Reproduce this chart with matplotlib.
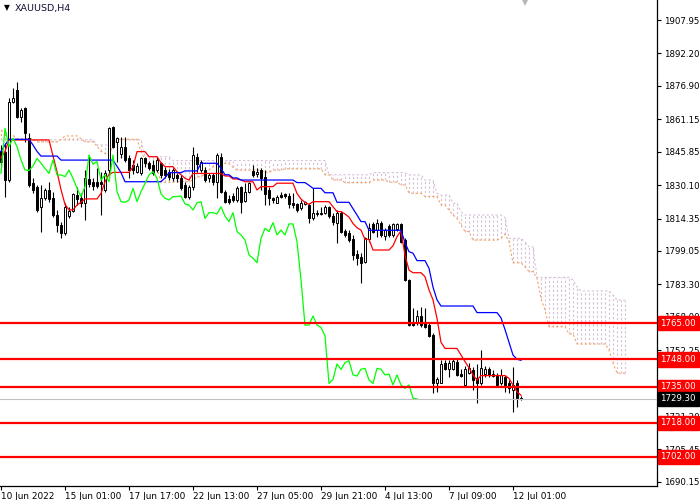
import matplotlib
matplotlib.use("Agg")
import matplotlib.pyplot as plt
import numpy as np

# ---------------- data (XAUUSD H4) ----------------
opens = [1846.0,1845.9,1832.5,1869.4,1874.9,1862.4,1866.3,1852.1,1831.0,1829.4,
         1819.9,1823.8,1827.8,1823.8,1816.0,1811.3,1807.4,1815.5,1817.9,1825.4,
         1824.2,1821.5,1833.0,1831.7,1831.7,1831.5,1827.8,1837.2,1857.6,1850.6,
         1845.0,1848.2,1842.7,1839.5,1836.4,1835.6,1843.0,1840.4,1839.6,1837.2,
         1840.4,1837.2,1836.4,1833.3,1834.9,1833.3,1830.2,1824.3,1829.4,1843.5,
         1837.2,1837.2,1833.3,1834.9,1831.7,1843.5,1827.0,1823.5,1825.0,1823.1,
         1829.0,1822.8,1827.0,1836.9,1835.5,1837.2,1834.0,1827.8,1824.2,1821.8,
         1825.4,1825.8,1825.0,1821.5,1821.2,1819.2,1821.2,1820.7,1814.4,1816.5,
         1817.1,1817.1,1819.9,1815.5,1812.4,1817.1,1808.6,1807.4,1804.5,1797.6,
         1796.0,1794.0,1804.5,1811.8,1808.9,1812.4,1806.1,1810.8,1806.6,1809.2,
         1811.8,1804.2,1785.4,1765.3,1764.9,1768.4,1764.9,1764.1,1759.4,1736.6,
         1736.9,1746.4,1743.2,1743.2,1746.9,1741.0,1735.9,1741.7,1742.9,1739.0,
         1736.6,1741.0,1743.3,1740.1,1740.6,1736.6,1739.8,1736.6,1733.5,1736.6,
         1729.6]
highs = [1849.0,1849.8,1871.0,1875.7,1878.9,1866.3,1867.0,1854.5,1833.3,1830.2,
         1830.2,1828.6,1831.7,1827.0,1818.4,1812.9,1821.5,1819.9,1826.2,1829.4,
         1826.2,1837.2,1844.0,1833.5,1838.0,1836.4,1837.2,1857.6,1857.9,1852.9,
         1852.9,1852.9,1844.3,1841.9,1840.4,1843.5,1843.5,1841.5,1841.9,1843.5,
         1841.2,1838.8,1837.5,1838.0,1836.0,1834.9,1831.7,1830.2,1847.9,1845.4,
         1842.0,1838.8,1835.6,1835.6,1845.1,1845.1,1827.8,1825.4,1826.2,1829.7,
         1829.7,1830.9,1831.7,1839.6,1838.0,1838.0,1837.2,1829.4,1824.7,1825.4,
         1827.0,1826.5,1826.5,1826.2,1821.5,1823.1,1822.8,1821.5,1828.6,1818.4,
         1819.6,1820.7,1820.2,1816.8,1818.4,1818.0,1809.3,1808.9,1806.6,1799.5,
         1797.9,1805.8,1812.1,1812.9,1814.0,1813.3,1809.7,1811.8,1812.4,1812.4,
         1812.1,1805.0,1785.7,1772.0,1771.2,1772.8,1772.0,1764.9,1760.2,1739.8,
         1747.6,1747.6,1747.6,1747.9,1747.9,1743.3,1744.8,1746.1,1744.5,1745.8,
         1752.4,1744.8,1744.5,1742.9,1741.7,1743.3,1740.6,1738.2,1744.5,1738.2,
         1730.5]
lows = [1839.0,1824.7,1831.7,1868.6,1861.6,1860.0,1850.6,1829.4,1826.2,1817.6,
        1808.1,1823.0,1822.3,1815.2,1808.1,1805.0,1806.6,1814.4,1817.6,1820.7,
        1819.9,1813.6,1829.0,1828.0,1828.6,1816.0,1827.0,1834.9,1847.4,1841.1,
        1842.7,1841.1,1833.3,1835.5,1835.6,1834.9,1838.8,1837.0,1834.9,1836.4,
        1833.3,1833.5,1832.5,1832.0,1831.5,1827.8,1823.9,1823.4,1827.8,1836.4,
        1836.4,1831.7,1831.7,1830.2,1823.9,1826.2,1821.8,1821.3,1822.3,1822.3,
        1816.8,1822.3,1826.2,1834.1,1834.0,1827.8,1820.7,1820.7,1821.8,1821.5,
        1823.9,1823.9,1819.2,1819.2,1817.6,1818.4,1820.7,1812.1,1813.6,1815.5,
        1816.0,1816.5,1814.4,1811.3,1802.7,1807.4,1805.5,1803.4,1794.8,1792.4,
        1784.1,1793.2,1803.4,1807.4,1805.5,1805.5,1804.2,1805.5,1805.8,1808.6,
        1802.7,1785.1,1763.7,1763.7,1764.1,1763.4,1762.6,1758.6,1732.3,1732.7,
        1736.6,1742.9,1739.8,1742.9,1740.1,1739.8,1735.4,1741.0,1733.5,1727.2,
        1735.9,1739.8,1739.8,1739.8,1735.4,1735.9,1732.7,1731.9,1723.3,1725.3,
        1728.8]
closes = [1841.0,1832.5,1869.4,1871.3,1862.4,1865.5,1854.5,1830.2,1827.8,1818.4,
          1824.1,1827.8,1823.5,1816.0,1811.3,1807.4,1819.9,1817.9,1825.7,1823.5,
          1821.5,1833.3,1830.5,1829.8,1829.8,1830.5,1835.6,1856.9,1848.2,1852.2,
          1848.2,1842.0,1837.2,1837.0,1839.1,1842.7,1840.4,1838.0,1835.6,1842.0,
          1834.9,1834.9,1834.1,1837.2,1833.3,1828.6,1824.7,1829.4,1844.3,1840.0,
          1841.2,1832.5,1834.9,1831.7,1844.3,1827.0,1822.3,1822.0,1823.1,1828.6,
          1822.3,1827.0,1830.9,1834.9,1836.5,1833.3,1826.0,1823.9,1823.1,1824.7,
          1824.7,1825.0,1821.2,1820.7,1818.4,1821.8,1822.3,1814.4,1817.1,1817.1,
          1816.5,1819.9,1815.5,1812.9,1817.1,1808.2,1806.6,1804.2,1797.2,1795.6,
          1793.5,1805.0,1809.7,1808.2,1812.4,1806.6,1808.9,1806.6,1811.8,1811.8,
          1803.4,1785.4,1764.1,1764.1,1768.4,1764.1,1763.0,1759.0,1736.6,1738.5,
          1745.8,1743.2,1746.4,1747.3,1740.6,1740.1,1743.3,1743.7,1738.2,1736.6,
          1743.7,1743.3,1740.6,1741.0,1735.9,1740.6,1735.9,1734.3,1735.9,1729.6,
          1729.3]

# Ichimoku lines (one value per bar)
tenkan = ([1843.0, 1846.0] + [1851.4]*11 + [1844.0, 1836.4, 1828.0, 1821.0] + [1818.4]*2 +
          [1820.7, 1822.0] + [1823.6]*4 + [1826.2, 1831.7, 1835.2] + [1836.1]*5 + [1838.6] +
          [1845.9]*3 + [1843.5]*3 + [1840.7] + [1838.8]*3 + [1836.4, 1835.0, 1833.3, 1832.5] +
          [1835.6]*8 + [1834.4]*2 + [1833.0]*2 + [1832.5] + [1831.7]*3 + [1827.8] + [1829.4]*4 +
          [1831.0]*5 + [1826.2, 1823.5, 1822.0, 1821.0] + [1822.3]*5 + [1819.9] + [1817.6]*2 +
          [1816.5, 1815.0, 1812.0, 1810.0, 1808.9] + [1804.5]*2 + [1799.5]*5 +
          [1801.5, 1805.8, 1808.6, 1797.0, 1790.0] + [1788.8]*3 + [1786.9, 1780.7, 1776.0, 1767.3, 1756.0] +
          [1753.1]*4 + [1750.0, 1746.9, 1744.0, 1740.6, 1738.2] + [1740.3]*7 + [1739.0, 1735.9, 1732.7, 1731.0])
kijun = ([1846.0, 1849.0] + [1851.7]*6 + [1849.0, 1846.0] + [1843.8]*5 + [1841.9]*14 + [1839.0, 1836.0] +
         [1831.7]*10 + [1833.5] + [1836.0]*4 + [1836.8]*4 + [1840.4]*5 + [1838.0] + [1835.0]*2 +
         [1833.5]*2 + [1832.5]*14 + [1831.3]*3 + [1830.0] + [1828.6]*3 + [1826.5]*3 + [1822.0]*4 +
         [1819.0, 1816.0] + [1812.9]*2 + [1808.8]*9 + [1803.0, 1798.7, 1798.0] + [1794.5]*3 +
         [1790.9, 1782.0, 1776.0] + [1773.1]*9 + [1770.0]*6 + [1767.5, 1762.0, 1756.0, 1750.0, 1748.0, 1747.5])
senkou_a = ([1856.0, 1855.0, 1854.0, 1853.5] + [1852.0]*5 + [1850.5]*6 + [1851.5] + [1853.3]*4 + [1852.0] +
            [1850.5]*3 + [1848.5, 1846.0] + [1845.0]*2 + [1848.0] + [1851.7]*6 + [1846.0, 1842.0] +
            [1838.0]*3 + [1831.5]*4 + [1831.7]*4 + [1832.5] + [1834.0]*2 + [1835.6, 1837.2, 1838.8] +
            [1840.3]*4 + [1838.5] + [1837.2]*7 + [1836.1]*2 + [1837.2]*3 + [1837.8]*10 + [1835.0]*2 +
            [1832.5]*3 + [1831.3]*7 + [1832.5]*4 + [1831.5]*3 + [1830.2]*2 + [1826.5] + [1826.2]*3 +
            [1824.7]*4 + [1820.7]*2 + [1818.4, 1816.0, 1814.4, 1811.3] + [1808.2]*2 + [1804.2]*7 +
            [1805.0, 1807.0, 1803.4] + [1793.5]*3 + [1791.7] + [1789.3]*2 + [1786.2, 1776.7, 1771.2] +
            [1763.4]*5 + [1760.0]*2 + [1755.2]*8 + [1752.4, 1746.1] + [1741.4]*3)
senkou_b = ([1851.5]*24 + [1849.0]*4 + [1851.5]*8 + [1843.5]*7 + [1841.7]*39 + [1835.0]*11 +
            [1836.0]*9 + [1834.9]*4 + [1832.5]*3 + [1826.2] + [1825.4]*3 + [1821.5]*2 + [1817.6] +
            [1816.0]*10 + [1814.8] + [1805.0]*4 + [1803.4] + [1801.0]*2 + [1786.6]*9 + [1785.4, 1782.2] +
            [1780.2]*8 + [1778.3] + [1775.9]*3)
chikou_shift = 26

levels = [1765.00, 1748.00, 1735.00, 1718.00, 1702.00]
last_price = 1729.30

ytick_values = [1907.95, 1892.20, 1876.90, 1861.15, 1845.85, 1830.10, 1814.35, 1799.05,
                1783.30, 1768.00, 1752.25, 1736.50, 1721.20, 1705.45, 1690.15]
xtick_bars = [0, 16, 32, 48, 64, 80, 96, 112, 128]
xtick_labels = ["10 Jun 2022", "15 Jun 01:00", "17 Jun 17:00", "22 Jun 13:00", "27 Jun 05:00",
                "29 Jun 21:00", "4 Jul 13:00", "7 Jul 09:00", "12 Jul 01:00"]

# ---------------- figure ----------------
plt.rcParams['font.family'] = ['DejaVu Sans']
fig = plt.figure(figsize=(7, 5), dpi=100)
fig.patch.set_facecolor('white')
ax = fig.add_axes([0, 14/500, 657/700, 486/500])
ax.set_facecolor('white')

o = np.array(opens); h = np.array(highs); l = np.array(lows); c = np.array(closes)
n = len(c)
x = np.arange(n)

sa = np.array(senkou_a); sb = np.array(senkou_b)
xs = np.arange(len(sa))

# cloud hatching: vertical dotted lines at each bar
cols = ['#D8BFD8' if sb[i] >= sa[i] else '#F4A460' for i in range(len(sa))]
ax.vlines(xs, np.minimum(sa, sb), np.maximum(sa, sb), colors=cols, linewidth=0.8,
          linestyles=(0, (2, 2)), zorder=1)
ax.plot(xs, sb, color='#D8BFD8', lw=0.8, ls=(0, (2, 2)), zorder=1.5)
ax.plot(xs, sa, color='#F4A460', lw=0.8, ls=(0, (2, 2)), zorder=1.5)

# candles
ax.vlines(x, l, h, color='black', linewidth=0.8, zorder=2)
up = c >= o
bottoms = np.minimum(o, c)
heights = np.maximum(np.abs(c - o), 0.3)
ax.bar(x[up], heights[up], bottom=bottoms[up], width=0.7, color='white',
       edgecolor='black', linewidth=0.7, zorder=3)
ax.bar(x[~up], heights[~up], bottom=bottoms[~up], width=0.7, color='black',
       edgecolor='black', linewidth=0.7, zorder=3)

# indicator lines
ax.plot(x, tenkan, color='#FF0000', lw=0.9, zorder=4)
ax.plot(x, kijun, color='#0000FF', lw=0.9, zorder=4)
ax.plot(x[:n - chikou_shift], c[chikou_shift:], color='#00FF00', lw=0.9, zorder=4)

# horizontal levels
ax.axhline(last_price, color='#C0C0C0', lw=0.8, zorder=5)
for lv in levels:
    ax.axhline(lv, color='#FF0000', lw=1.6, zorder=6)

ax.set_xlim(-0.25, 164.0)
ax.set_ylim(1688.24, 1917.38)

# axes styling
for s in ['top', 'left']:
    ax.spines[s].set_visible(False)
for s in ['right', 'bottom']:
    ax.spines[s].set_linewidth(0.9)
    ax.spines[s].set_color('black')

ax.yaxis.tick_right()
ax.set_yticks(ytick_values)
ax.set_yticklabels([f"{v:.2f}" for v in ytick_values])
ax.tick_params(axis='y', direction='out', length=3, width=0.8, pad=2, labelsize=6.2, colors='black')
ax.set_xticks(xtick_bars)
ax.set_xticklabels(xtick_labels, ha='left')
ax.tick_params(axis='x', direction='out', length=3, width=0.8, pad=1.5, labelsize=6.4, colors='black')
for lab in ax.get_xticklabels():
    lab.set_horizontalalignment('left')

# price labels on the axis
tr = ax.get_yaxis_transform()
for lv in levels:
    ax.text(1.005, lv, f"{lv:.2f}", transform=tr, ha='left', va='center', fontsize=6.2,
            color='white', zorder=10, clip_on=False,
            bbox=dict(boxstyle='square,pad=0.32', fc='#FF0000', ec='#FF0000'))
ax.text(1.005, last_price, f"{last_price:.2f}", transform=tr, ha='left', va='center',
        fontsize=6.2, color='white', zorder=10, clip_on=False,
        bbox=dict(boxstyle='square,pad=0.32', fc='black', ec='black'))

# chart shift marker
ax.plot([131.0], [1.0], marker='v', markersize=9, color='#B8B8B8', markeredgewidth=0,
        transform=ax.get_xaxis_transform(), clip_on=False, zorder=10)

# title
fig.text(4/700, 1 - 8/500, "\u25BC", fontsize=5.5, color='black', va='center', ha='left')
fig.text(15/700, 1 - 8/500, "XAUUSD,H4", fontsize=6.8, color='#101030', va='center', ha='left')

fig.savefig("out.png", dpi=100, facecolor='white')
